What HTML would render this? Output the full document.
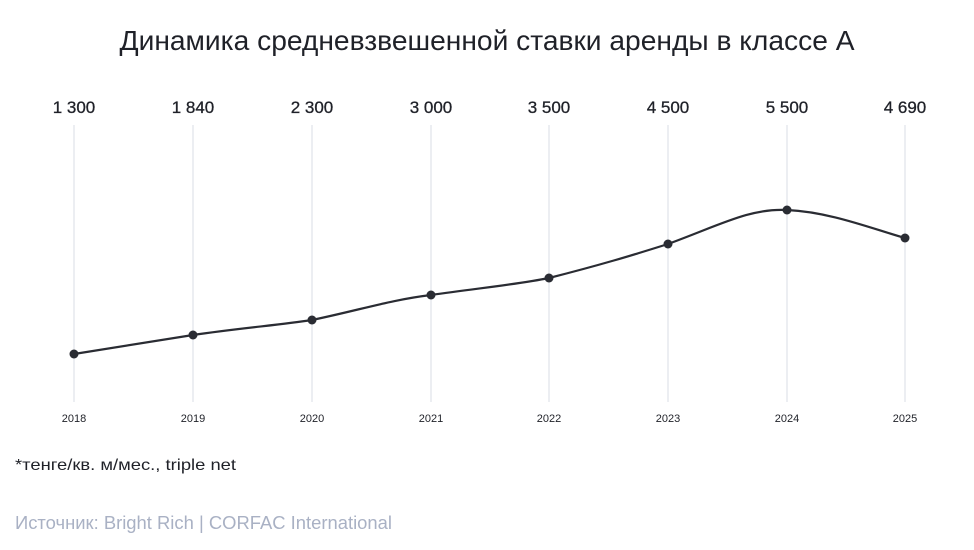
<!DOCTYPE html>
<html><head><meta charset="utf-8"><style>
html,body{margin:0;padding:0;background:#fff;}
svg{display:block;font-family:"Liberation Sans",sans-serif;}
</style></head><body>
<svg width="974" height="550" viewBox="0 0 974 550">
<text x="487" y="50" text-anchor="middle" font-size="28" fill="#1f2128" textLength="735" lengthAdjust="spacingAndGlyphs">Динамика средневзвешенной ставки аренды в классе А</text>
<g stroke="#eceef2" stroke-width="2">
<line x1="74" y1="125" x2="74" y2="402"/><line x1="193" y1="125" x2="193" y2="402"/>
<line x1="312" y1="125" x2="312" y2="402"/><line x1="431" y1="125" x2="431" y2="402"/>
<line x1="549" y1="125" x2="549" y2="402"/><line x1="668" y1="125" x2="668" y2="402"/>
<line x1="787" y1="125" x2="787" y2="402"/><line x1="905" y1="125" x2="905" y2="402"/>
</g>
<g font-size="17" fill="#1f2128" text-anchor="middle" stroke="#1f2128" stroke-width="0.3">
<text x="74" y="113">1 300</text><text x="193" y="113">1 840</text><text x="312" y="113">2 300</text>
<text x="431" y="113">3 000</text><text x="549" y="113">3 500</text><text x="668" y="113">4 500</text>
<text x="787" y="113">5 500</text><text x="905" y="113">4 690</text>
</g>
<g font-size="11" fill="#1f2128" text-anchor="middle">
<text x="74" y="422">2018</text><text x="193" y="422">2019</text><text x="312" y="422">2020</text>
<text x="431" y="422">2021</text><text x="549" y="422">2022</text><text x="668" y="422">2023</text>
<text x="787" y="422">2024</text><text x="905" y="422">2025</text>
</g>
<path d="M74,354 L193,335 C240,328 280,325 312,320 C360,310 390,300 431,295 C480,288 520,284 549,278 C600,265 630,256 668,244 C720,225 750,208 787,210 C830,212 870,228 905,238" fill="none" stroke="#2a2c33" stroke-width="2.2"/>
<g fill="#2a2c33">
<circle cx="74" cy="354" r="4.5"/><circle cx="193" cy="335" r="4.5"/><circle cx="312" cy="320" r="4.5"/>
<circle cx="431" cy="295" r="4.5"/><circle cx="549" cy="278" r="4.5"/><circle cx="668" cy="244" r="4.5"/>
<circle cx="787" cy="210" r="4.5"/><circle cx="905" cy="238" r="4.5"/>
</g>
<text x="15" y="470" font-size="16" fill="#1f2128" textLength="221" lengthAdjust="spacingAndGlyphs">*тенге/кв. м/мес., triple net</text>
<text x="15" y="529" font-size="18" fill="#a9b1c4" textLength="377" lengthAdjust="spacingAndGlyphs">Источник: Bright Rich | CORFAC International</text>
</svg>
</body></html>
